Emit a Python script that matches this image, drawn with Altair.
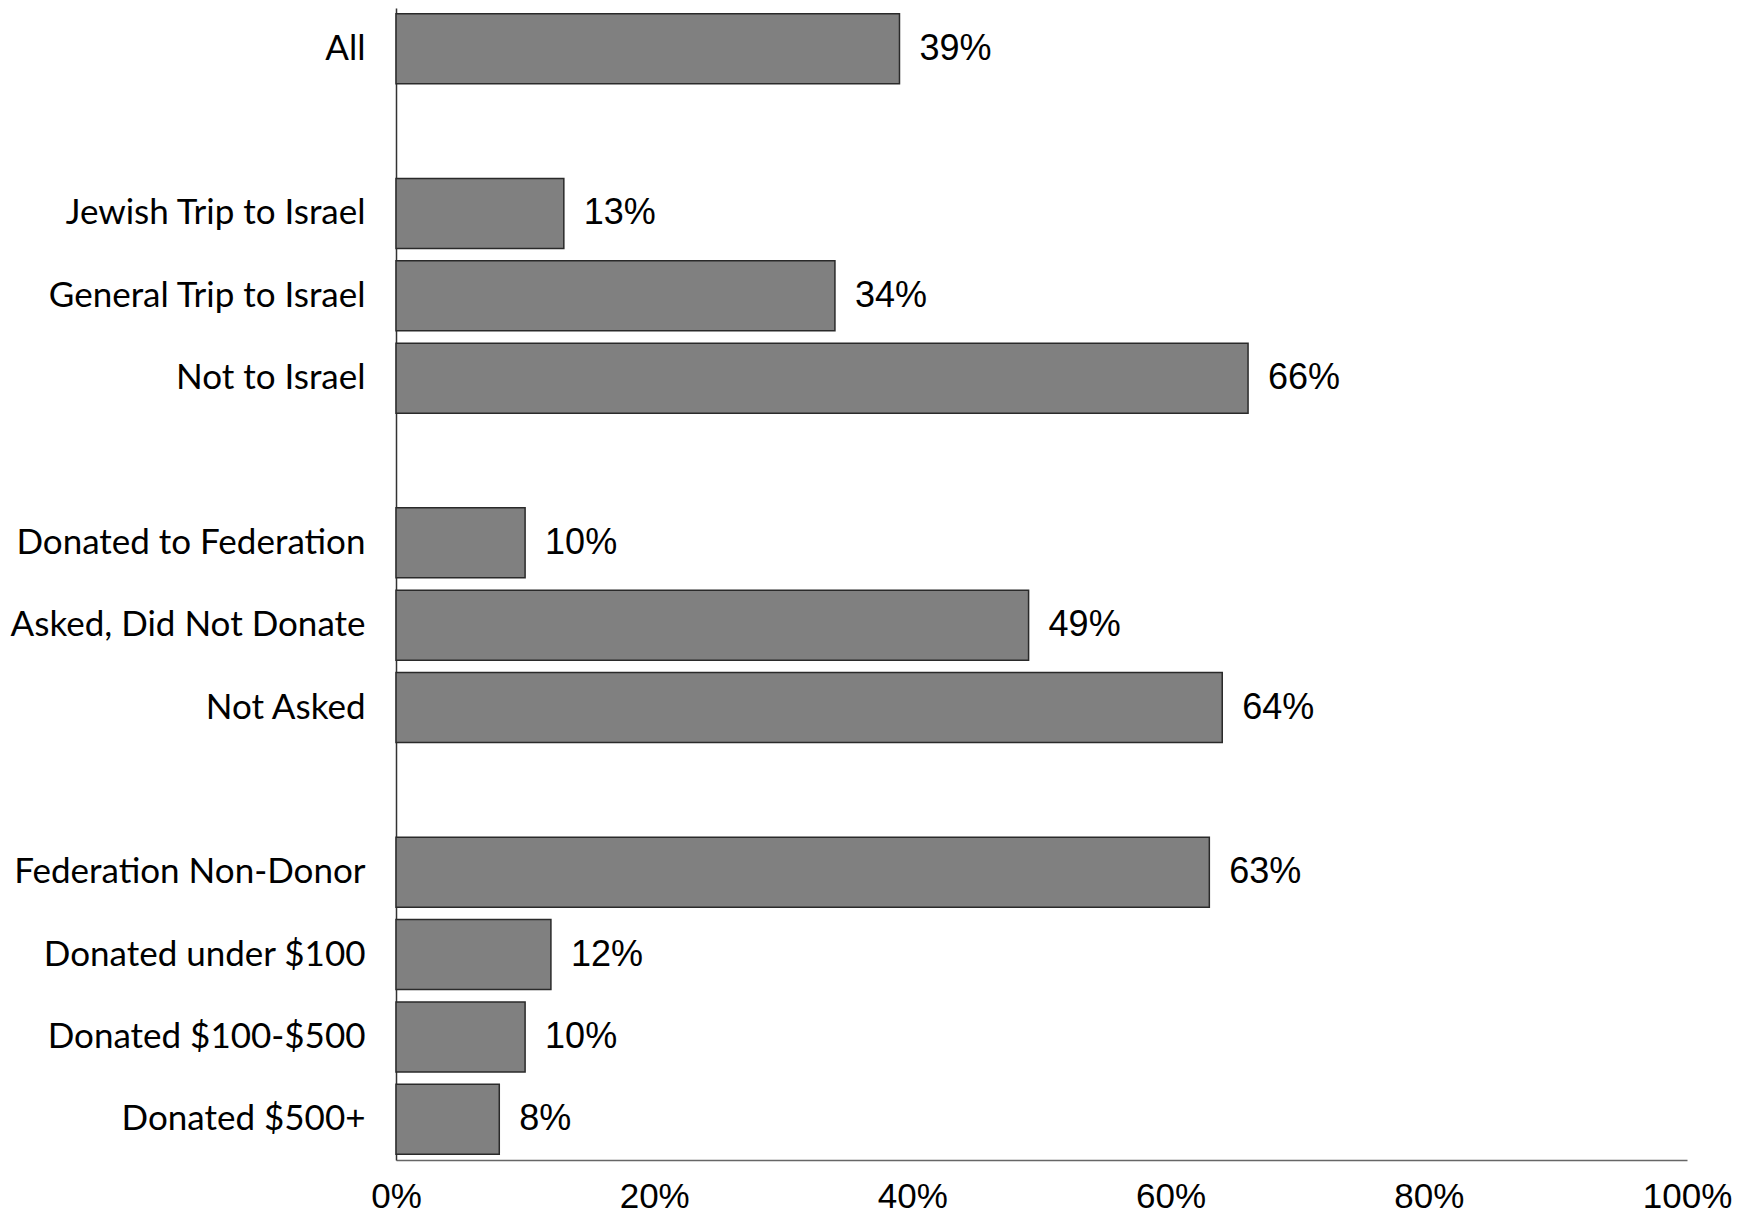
import altair as alt
import pandas as pd

categories = [
    "All",
    "Jewish Trip to Israel", "General Trip to Israel", "Not to Israel",
    "Donated to Federation", "Asked, Did Not Donate", "Not Asked",
    "Federation Non-Donor", "Donated under $100", "Donated $100-$500", "Donated $500+",
]
values = [39, 13, 34, 66, 10, 49, 64, 63, 12, 10, 8]

# row order including blank spacer rows between the groups
row_order = [
    "All", "gap1",
    "Jewish Trip to Israel", "General Trip to Israel", "Not to Israel", "gap2",
    "Donated to Federation", "Asked, Did Not Donate", "Not Asked", "gap3",
    "Federation Non-Donor", "Donated under $100", "Donated $100-$500", "Donated $500+",
]
x_ticks = [0, 20, 40, 60, 80, 100]

df = pd.DataFrame({"category": categories, "value": values})
df["label"] = [f"{v}%" for v in values]

y_enc = alt.Y(
    "category:N",
    sort=row_order,
    scale=alt.Scale(domain=row_order, paddingInner=0.15, paddingOuter=0.07),
    axis=alt.Axis(
        title=None,
        ticks=False,
        labelExpr="indexof(datum.value, 'gap') == 0 ? '' : datum.value",
        labelFont="Lato",
        labelFontSize=35,
        labelColor="#000000",
        labelPadding=31,
        domainColor="#333333",
        domainWidth=1.5,
        labelLimit=0,
    ),
)

x_enc = alt.X(
    "value:Q",
    scale=alt.Scale(domain=[0, 100], nice=False),
    axis=alt.Axis(
        title=None,
        values=x_ticks,
        labelExpr="datum.value + '%'",
        ticks=False,
        grid=False,
        labelFont="Liberation Sans",
        labelFontSize=35,
        labelColor="#000000",
        labelPadding=19,
        domainColor="#666666",
        domainWidth=1.5,
        labelFlush=False,
    ),
)

bars = alt.Chart(df).mark_bar(
    color="#808080", stroke="#2a2a2a", strokeWidth=1.5
).encode(y=y_enc, x=x_enc)

labels = alt.Chart(df).mark_text(
    align="left", baseline="middle", dx=20,
    font="Liberation Sans", fontSize=36, color="#000000",
).encode(y=alt.Y("category:N", sort=row_order), x="value:Q", text="label:N")

chart = (
    alt.layer(bars, labels)
    .properties(
        width=1291,
        height=1152,
        background="white",
        autosize=alt.AutoSizeParams(type="none"),
        padding={"left": 388, "top": 0, "right": 50, "bottom": 55},
    )
    .configure_view(strokeWidth=0, stroke="transparent")
)

chart.save("out.html", embed_options={"renderer": "svg", "actions": False})
